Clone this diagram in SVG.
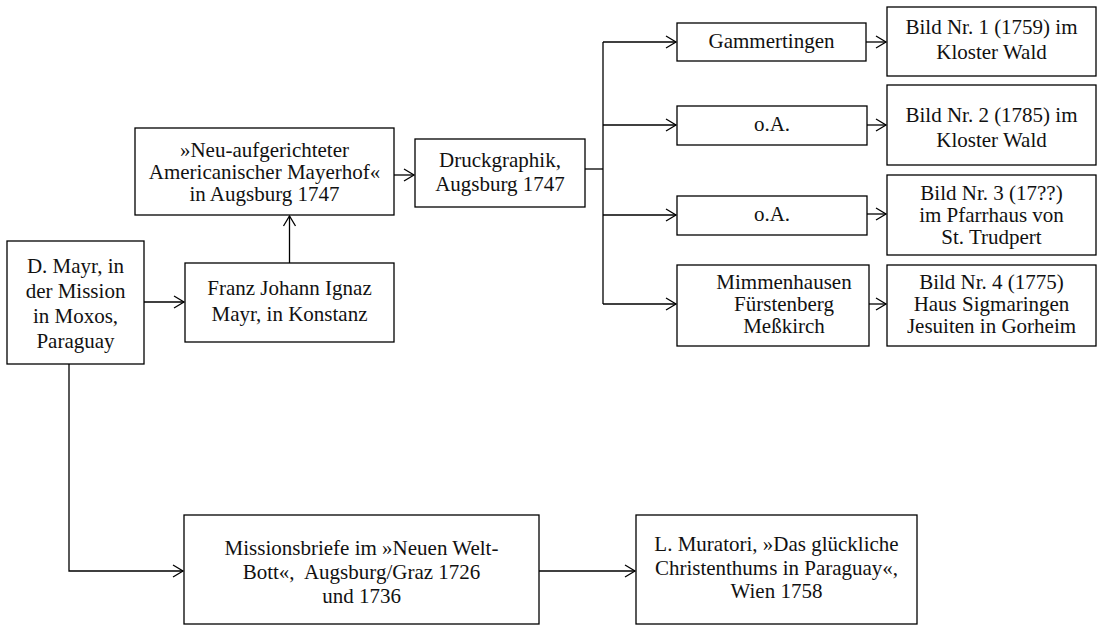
<svg xmlns="http://www.w3.org/2000/svg" width="1100" height="625" viewBox="0 0 1100 625">
<style>
.box{fill:#fff;stroke:#000;stroke-width:1.3}
.t{font-family:"Liberation Serif","DejaVu Serif",serif;font-size:21px;fill:#111;text-anchor:middle}
.c{fill:none;stroke:#000;stroke-width:1.3}
</style>
<defs>
<marker id="ah" markerUnits="userSpaceOnUse" markerWidth="12" markerHeight="14" refX="10" refY="6" orient="auto" viewBox="0 0 12 14" overflow="visible">
<path d="M0,0 L10,6 L0,12" fill="none" stroke="#000" stroke-width="1.3"/>
</marker>
</defs>
<rect width="1100" height="625" fill="#fff"/>
<g id="connectors">
<path class="c" d="M144,302 H184" marker-end="url(#ah)"/>
<path class="c" d="M289.5,263 V216" marker-end="url(#ah)"/>
<path class="c" d="M394,175 H414" marker-end="url(#ah)"/>
<path class="c" d="M585,169 H603"/>
<path class="c" d="M603,42 V304"/>
<path class="c" d="M603,42 H676" marker-end="url(#ah)"/>
<path class="c" d="M603,125 H676" marker-end="url(#ah)"/>
<path class="c" d="M603,215 H676" marker-end="url(#ah)"/>
<path class="c" d="M603,304 H676" marker-end="url(#ah)"/>
<path class="c" d="M866,42 H886" marker-end="url(#ah)"/>
<path class="c" d="M867,125 H886" marker-end="url(#ah)"/>
<path class="c" d="M867,214 H886" marker-end="url(#ah)"/>
<path class="c" d="M869,304 H886" marker-end="url(#ah)"/>
<path class="c" d="M69,364 V571 H183" marker-end="url(#ah)"/>
<path class="c" d="M539,571 H635" marker-end="url(#ah)"/>
</g>
<g id="dmayr">
<rect class="box" x="7" y="241" width="137" height="123"/>
<text class="t" x="75.5" y="273">D. Mayr, in</text>
<text class="t" x="75.5" y="298">der Mission</text>
<text class="t" x="75.5" y="323">in Moxos,</text>
<text class="t" x="75.5" y="348">Paraguay</text>
</g>
<g id="franz">
<rect class="box" x="185" y="263" width="209" height="79"/>
<text class="t" x="289.5" y="295">Franz Johann Ignaz</text>
<text class="t" x="289.5" y="321">Mayr, in Konstanz</text>
</g>
<g id="neu">
<rect class="box" x="135" y="128" width="259" height="87"/>
<text class="t" x="264.5" y="157">»Neu-aufgerichteter</text>
<text class="t" x="264.5" y="179">Americanischer Mayerhof«</text>
<text class="t" x="264.5" y="201">in Augsburg 1747</text>
</g>
<g id="druck">
<rect class="box" x="415" y="139" width="170" height="68"/>
<text class="t" x="500" y="167">Druckgraphik,</text>
<text class="t" x="500" y="191">Augsburg 1747</text>
</g>
<g id="gamm">
<rect class="box" x="677" y="23" width="189" height="38"/>
<text class="t" x="771.5" y="48">Gammertingen</text>
</g>
<g id="oa1">
<rect class="box" x="677" y="106" width="190" height="39"/>
<text class="t" x="772" y="131">o.A.</text>
</g>
<g id="oa2">
<rect class="box" x="677" y="196" width="190" height="39"/>
<text class="t" x="772" y="221">o.A.</text>
</g>
<g id="mimm">
<rect class="box" x="677" y="265" width="192" height="81"/>
<text class="t" x="784" y="289">Mimmenhausen</text>
<text class="t" x="784" y="311">Fürstenberg</text>
<text class="t" x="784" y="333">Meßkirch</text>
</g>
<g id="bild1">
<rect class="box" x="887" y="7" width="209" height="69"/>
<text class="t" x="991.5" y="34">Bild Nr. 1 (1759) im</text>
<text class="t" x="991.5" y="59">Kloster Wald</text>
</g>
<g id="bild2">
<rect class="box" x="887" y="85" width="209" height="80"/>
<text class="t" x="991.5" y="122">Bild Nr. 2 (1785) im</text>
<text class="t" x="991.5" y="147">Kloster Wald</text>
</g>
<g id="bild3">
<rect class="box" x="887" y="175" width="209" height="80"/>
<text class="t" x="991.5" y="200">Bild Nr. 3 (17??)</text>
<text class="t" x="991.5" y="222">im Pfarrhaus von</text>
<text class="t" x="991.5" y="244">St. Trudpert</text>
</g>
<g id="bild4">
<rect class="box" x="887" y="265" width="209" height="81"/>
<text class="t" x="991.5" y="289">Bild Nr. 4 (1775)</text>
<text class="t" x="991.5" y="311">Haus Sigmaringen</text>
<text class="t" x="991.5" y="333">Jesuiten in Gorheim</text>
</g>
<g id="miss">
<rect class="box" x="184" y="515" width="355" height="109"/>
<text class="t" x="361.5" y="555">Missionsbriefe im »Neuen Welt-</text>
<text class="t" x="361.5" y="579" xml:space="preserve">Bott«,  Augsburg/Graz 1726</text>
<text class="t" x="361.5" y="603">und 1736</text>
</g>
<g id="murat">
<rect class="box" x="636" y="515" width="281" height="109"/>
<text class="t" x="776.5" y="551">L. Muratori, »Das glückliche</text>
<text class="t" x="776.5" y="575">Christenthums in Paraguay«,</text>
<text class="t" x="776.5" y="598">Wien 1758</text>
</g>
</svg>
